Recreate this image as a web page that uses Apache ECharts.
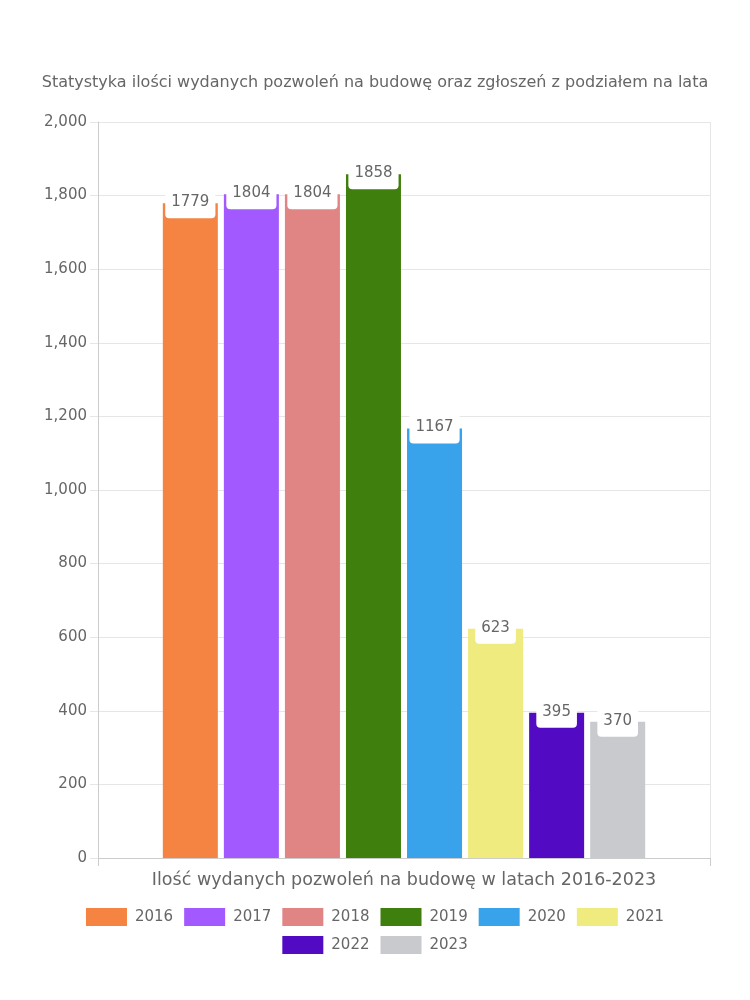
<!DOCTYPE html>
<html>
<head>
<meta charset="utf-8">
<script src="https://cdn.jsdelivr.net/npm/echarts@6/dist/echarts.min.js"></script>
<style>html,body{margin:0;padding:0;background:#fff}#chart{width:750px;height:1000px}</style>
</head>
<body>
<div id="chart"></div>
<script>
var titleText = 'Statystyka ilości wydanych pozwoleń na budowę oraz zgłoszeń z podziałem na lata';
var categories = ['Ilość wydanych pozwoleń na budowę w latach 2016-2023'];
var years = ['2016', '2017', '2018', '2019', '2020', '2021', '2022', '2023'];
var values = [1779, 1804, 1804, 1858, 1167, 623, 395, 370];
var colors = ['#F58442', '#A259FF', '#E08484', '#3F7F0D', '#38A3EA', '#F0EB7E', '#520BC2', '#C9CACE'];
var yTicks = [0, 200, 400, 600, 800, 1000, 1200, 1400, 1600, 1800, 2000];

var FONT = 'DejaVu Sans';
var TXT = '#666666';

var series = years.map(function (y, i) {
  return {
    name: y,
    type: 'bar',
    data: [values[i]],
    itemStyle: { color: colors[i] },
    barWidth: 55,
    barGap: '11%',
    label: {
      show: true,
      position: 'top',
      distance: 5,
      offset: [0, 20],
      color: TXT,
      fontFamily: FONT,
      fontSize: 15,
      lineHeight: 18,
      backgroundColor: '#ffffff',
      padding: [4, 6, 7, 6],
      borderRadius: [0, 0, 4, 4]
    }
  };
});

var legendCommon = {
  orient: 'horizontal',
  left: 'center',
  icon: 'rect',
  itemWidth: 41,
  itemHeight: 18,
  itemGap: 11,
  textStyle: { color: TXT, fontFamily: FONT, fontSize: 15, padding: [0, 0, 0, 3] }
};

var chart = echarts.init(document.getElementById('chart'), null, { renderer: 'canvas' });
chart.setOption({
  animation: false,
  color: colors,
  title: {
    text: titleText,
    left: 'center',
    top: 70,
    textStyle: { color: TXT, fontFamily: FONT, fontSize: 16, fontWeight: 'normal' }
  },
  legend: [
    Object.assign({}, legendCommon, { top: 903, data: years.slice(0, 6) }),
    Object.assign({}, legendCommon, { top: 931, data: years.slice(6) })
  ],
  grid: { left: 98, right: 40, top: 122, bottom: 142, containLabel: false },
  xAxis: {
    type: 'category',
    data: categories,
    axisLine: { lineStyle: { color: '#cccccc' } },
    axisTick: { show: true, length: 8, lineStyle: { color: '#cccccc' } },
    splitLine: { show: true, lineStyle: { color: '#e6e6e6' } },
    axisLabel: { color: TXT, fontFamily: FONT, fontSize: 17.5, margin: 13 }
  },
  yAxis: {
    type: 'value',
    min: yTicks[0],
    max: yTicks[yTicks.length - 1],
    interval: 200,
    axisLine: { show: true, lineStyle: { color: '#cccccc' } },
    axisTick: { show: true, length: 8, lineStyle: { color: '#e6e6e6' } },
    splitLine: { show: true, lineStyle: { color: '#e6e6e6' } },
    axisLabel: {
      color: TXT, fontFamily: FONT, fontSize: 15, margin: 11,
      formatter: function (v) { return v.toLocaleString('en-US'); }
    }
  },
  series: series
});
</script>
</body>
</html>
